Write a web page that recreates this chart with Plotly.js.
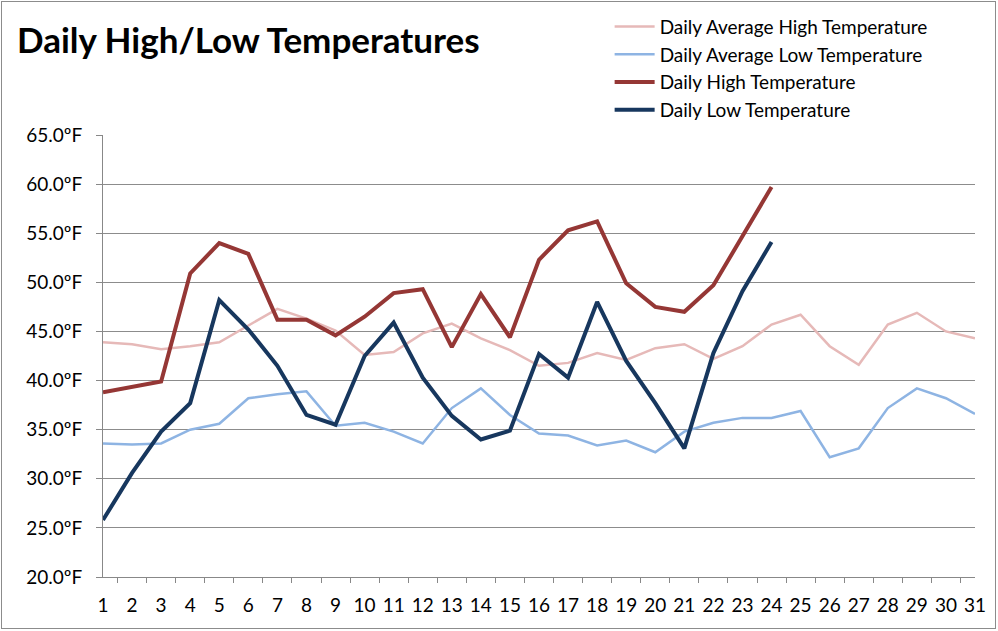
<!DOCTYPE html>
<html>
<head>
<meta charset="utf-8">
<script src="https://cdn.plot.ly/plotly-3.0.1.min.js"></script>
<style>
html,body{margin:0;padding:0;background:#fff;}
#wrap{position:relative;width:998px;height:631px;}
#chart{width:998px;height:631px;}
#frame{position:absolute;left:1px;top:1px;width:993px;height:626px;border:1px solid #8c8c8c;pointer-events:none;}
</style>
</head>
<body>
<div id="wrap"><div id="chart"></div><div id="frame"></div></div>
<script>
const days = ["1","2","3","4","5","6","7","8","9","10","11","12","13","14","15","16","17","18","19","20","21","22","23","24","25","26","27","28","29","30","31"];
const avgHigh = [43.9,43.7,43.2,43.5,43.9,45.6,47.3,46.3,45.1,42.6,42.9,44.8,45.8,44.3,43.1,41.5,41.8,42.8,42.1,43.3,43.7,42.2,43.5,45.7,46.7,43.5,41.6,45.7,46.9,45.0,44.3];
const avgLow = [33.6,33.5,33.6,35.0,35.6,38.2,38.6,38.9,35.4,35.7,34.8,33.6,37.2,39.2,36.5,34.6,34.4,33.4,33.9,32.7,34.8,35.7,36.2,36.2,36.9,32.2,33.1,37.2,39.2,38.2,36.6];
const dailyHigh = [38.8,39.3,39.9,50.9,54.0,52.9,46.2,46.2,44.6,46.5,48.9,49.3,43.4,48.8,44.4,52.3,55.3,56.2,49.9,47.5,47.0,49.7,54.8,59.7];
const dailyLow = [25.8,30.6,34.8,37.7,48.2,45.2,41.5,36.5,35.5,42.5,45.9,40.3,36.4,34.0,34.9,42.7,40.3,48.0,42.0,37.7,33.1,42.8,49.1,54.1];
const seriesNames = ["Daily Average High Temperature","Daily Average Low Temperature","Daily High Temperature","Daily Low Temperature"];
const yTicks = [20,25,30,35,40,45,50,55,60,65];
const yTickText = yTicks.map(v => v.toFixed(1) + "ºF");

const font = "Lato, 'Open Sans', sans-serif";
const traces = [
  {x: days, y: avgHigh, name: seriesNames[0], mode: "lines", line: {color: "#E6B9B8", width: 2.5}, legendgroup: "a"},
  {x: days, y: avgLow, name: seriesNames[1], mode: "lines", line: {color: "#8EB4E3", width: 2.5}, legendgroup: "b"},
  {x: days.slice(0, dailyHigh.length), y: dailyHigh, name: seriesNames[2], mode: "lines", line: {color: "#953735", width: 4}, legendgroup: "c"},
  {x: days.slice(0, dailyLow.length), y: dailyLow, name: seriesNames[3], mode: "lines", line: {color: "#17375E", width: 4}, legendgroup: "d"}
];
const layout = {
  width: 998, height: 631,
  margin: {l: 103, r: 23, t: 135, b: 54, autoexpand: false},
  paper_bgcolor: "#fff", plot_bgcolor: "#fff",
  font: {family: font, color: "#000", size: 18},
  title: {text: "<b>Daily High/Low Temperatures</b>", font: {family: font, size: 35, color: "#000"},
          x: 0.017, xref: "container", xanchor: "left", y: 0.935, yref: "container", yanchor: "middle"},
  xaxis: {type: "category", tickson: "boundaries", ticks: "outside", ticklen: 5, tickcolor: "#888", tickwidth: 1,
          tickangle: 0, showline: true, linecolor: "#888", linewidth: 1, showgrid: false, zeroline: false,
          tickfont: {family: font, size: 19, color: "#000"}, ticklabelstandoff: 11, fixedrange: true},
  yaxis: {range: [20, 65], tickmode: "array", tickvals: yTicks, ticktext: yTickText, ticks: "outside", ticklen: 6,
          tickcolor: "#888", tickwidth: 1, showline: true, linecolor: "#888", linewidth: 1,
          showgrid: true, gridcolor: "#8c8c8c", gridwidth: 1, zeroline: false,
          tickfont: {family: font, size: 19, color: "#000"}, ticklabelstandoff: 10, fixedrange: true},
  legend: {x: 0.581, y: 1.288, xanchor: "left", yanchor: "top", bgcolor: "rgba(0,0,0,0)", itemwidth: 40,
           font: {family: font, size: 19, color: "#000"}, tracegroupgap: 7, traceorder: "normal"},
  showlegend: true
};
Plotly.newPlot("chart", traces, layout, {displayModeBar: false, staticPlot: true});
</script>
</body>
</html>
